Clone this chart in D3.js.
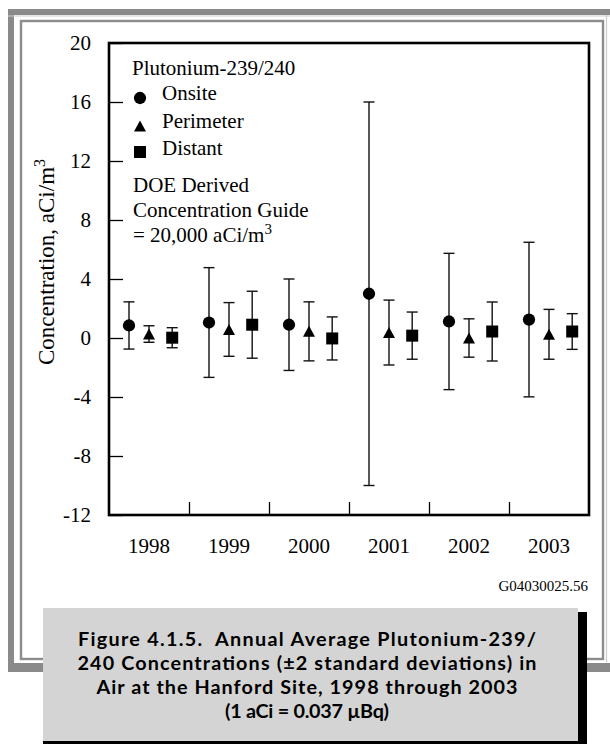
<!DOCTYPE html>
<html>
<head>
<meta charset="utf-8">
<script src="https://cdn.jsdelivr.net/npm/d3@7"></script>
<style>
html, body { margin: 0; padding: 0; background: #fff; }
svg { display: block; }
text { white-space: pre; }
</style>
</head>
<body>
<svg id="chart" width="610" height="744"></svg>
<script>
// ---- data ----
const years = [1998, 1999, 2000, 2001, 2002, 2003];
const seriesNames = ["Onsite", "Perimeter", "Distant"];
const onsiteMean = [0.85, 1.05, 0.9, 3.0, 1.12, 1.25];
const onsiteErr  = [1.6, 3.72, 3.1, 13.0, 4.62, 5.24];
const perimeterMean = [0.27, 0.58, 0.45, 0.37, 0.0, 0.25];
const perimeterErr  = [0.56, 1.82, 2.0, 2.2, 1.3, 1.69];
const distantMean = [0.02, 0.9, -0.03, 0.16, 0.44, 0.44];
const distantErr  = [0.68, 2.27, 1.46, 1.6, 2.0, 1.21];
const yTicks = [-12, -8, -4, 0, 4, 8, 12, 16, 20];
const captionLines = [
  "Figure 4.1.5.  Annual Average Plutonium-239/",
  "240 Concentrations (\u00b12 standard deviations) in",
  "Air at the Hanford Site, 1998 through 2003",
  "(1 aCi = 0.037 \u00b5Bq)"
];

// ---- layout ----
const svg = d3.select("#chart");
const serif = "'Liberation Serif', 'Times New Roman', serif";
const captionFont = "Lato, 'Open Sans', sans-serif";
const captionWidths = [458, 459, 421, 164];
const plot = { left: 109, right: 589, top: 43, bottom: 515 };
const seriesOffset = { Onsite: -0.25, Perimeter: 0, Distant: 0.29 }; // in year units

const x = d3.scaleLinear().domain([1997.5, 2003.5]).range([plot.left, plot.right]);
const y = d3.scaleLinear().domain([-12, 20]).range([plot.bottom, plot.top]);

// ---- page frame ----
const frameGray = "#8a8a8a";
svg.append("path").attr("d", "M11,672 L11,12 L610,12")
  .attr("fill", "none").attr("stroke", frameGray).attr("stroke-width", 6);
svg.append("line").attr("x1", 8).attr("x2", 610).attr("y1", 16).attr("y2", 16)
  .attr("stroke", "#cfcfcf").attr("stroke-width", 1);
svg.append("rect").attr("x", 8).attr("y", 663).attr("width", 602).attr("height", 9).attr("fill", frameGray);
svg.append("rect").attr("x", 21).attr("y", 21).attr("width", 582).attr("height", 638)
  .attr("fill", "none").attr("stroke", "#8c8c8c").attr("stroke-width", 2.4);
svg.append("line").attr("x1", 606.5).attr("x2", 606.5).attr("y1", 15).attr("y2", 662)
  .attr("stroke", "#cccccc").attr("stroke-width", 1.2);

// ---- axes ----
const yAxis = d3.axisLeft(y).tickValues(yTicks).tickSize(-14).tickPadding(18).tickFormat(d3.format("d"));
const gy = svg.append("g").attr("transform", `translate(${plot.left},0)`).call(yAxis);
gy.select(".domain").remove();
gy.selectAll(".tick line").attr("stroke", "#000").attr("stroke-width", 1.3);
gy.selectAll(".tick text").attr("font-family", serif).attr("font-size", 21).attr("fill", "#000")
  .text(d => d < 0 ? "-" + Math.abs(d) : d);

const bounds = years.slice(0, -1).map(v => v + 0.5);
const xAxis = d3.axisBottom(x).tickValues(bounds).tickSize(-13).tickFormat("");
const gx = svg.append("g").attr("transform", `translate(0,${plot.bottom})`).call(xAxis);
gx.select(".domain").remove();
gx.selectAll(".tick line").attr("stroke", "#000").attr("stroke-width", 1.3);

svg.append("g").selectAll("text").data(years).join("text")
  .attr("x", d => x(d)).attr("y", 553)
  .attr("text-anchor", "middle").attr("font-family", serif).attr("font-size", 21)
  .text(d => d);

// plot frame
svg.append("rect").attr("x", plot.left).attr("y", plot.top)
  .attr("width", plot.right - plot.left).attr("height", plot.bottom - plot.top)
  .attr("fill", "none").attr("stroke", "#000").attr("stroke-width", 2.6);

// y label
const ylab = svg.append("text").attr("transform", "translate(54,262) rotate(-90)")
  .attr("text-anchor", "middle").attr("font-family", serif).attr("font-size", 23);
ylab.append("tspan").text("Concentration, aCi/m");
ylab.append("tspan").attr("dy", -9).attr("font-size", 16).text("3");

// ---- markers ----
function markerPath(name) {
  if (name === "Onsite") return d3.symbol(d3.symbolCircle, 118)();
  if (name === "Perimeter") return "M0,-5.5L6,5.5L-6,5.5Z";
  return "M-6,-6H6V6H-6Z";
}

const series = [
  { name: "Onsite", mean: onsiteMean, err: onsiteErr },
  { name: "Perimeter", mean: perimeterMean, err: perimeterErr },
  { name: "Distant", mean: distantMean, err: distantErr }
];

const pts = [];
series.forEach(s => years.forEach((yr, i) => pts.push({ name: s.name, year: yr, v: s.mean[i], e: s.err[i] })));

const g = svg.append("g");
const px = d => x(d.year + seriesOffset[d.name]);
g.selectAll("line.err").data(pts).join("line").attr("class", "err")
  .attr("x1", px).attr("x2", px)
  .attr("y1", d => y(d.v - d.e)).attr("y2", d => y(d.v + d.e))
  .attr("stroke", "#111").attr("stroke-width", 1.4);
["lo", "hi"].forEach(k => {
  g.selectAll("line.cap" + k).data(pts).join("line").attr("class", "cap" + k)
    .attr("x1", d => px(d) - 5.5).attr("x2", d => px(d) + 5.5)
    .attr("y1", d => y(k === "lo" ? d.v - d.e : d.v + d.e))
    .attr("y2", d => y(k === "lo" ? d.v - d.e : d.v + d.e))
    .attr("stroke", "#111").attr("stroke-width", 1.4);
});
g.selectAll("path.mk").data(pts).join("path").attr("class", "mk")
  .attr("transform", d => `translate(${px(d)},${y(d.v)})`)
  .attr("d", d => markerPath(d.name)).attr("fill", "#000");

// ---- legend ----
const leg = svg.append("g").attr("font-family", serif).attr("font-size", 21);
leg.append("text").attr("x", 132).attr("y", 75).text("Plutonium-239/240");
const legY = [98, 126, 152];
seriesNames.forEach((n, i) => {
  leg.append("path").attr("transform", `translate(140,${legY[i]})`).attr("d", markerPath(n)).attr("fill", "#000");
  leg.append("text").attr("x", 162).attr("y", [100, 128, 155][i]).text(n);
});
leg.append("text").attr("x", 133).attr("y", 192).text("DOE Derived");
leg.append("text").attr("x", 133).attr("y", 217).text("Concentration Guide");
const g3 = leg.append("text").attr("x", 133).attr("y", 242);
g3.append("tspan").text("= 20,000 aCi/m");
g3.append("tspan").attr("dy", -8).attr("font-size", 15).text("3");

// id code
svg.append("text").attr("x", 588).attr("y", 591).attr("text-anchor", "end")
  .attr("font-family", serif).attr("font-size", 15).text("G04030025.56");

// ---- caption box ----
svg.append("rect").attr("x", 43).attr("y", 612).attr("width", 544).attr("height", 140).attr("fill", "#000");
svg.append("rect").attr("x", 43).attr("y", 608).attr("width", 535).attr("height", 133).attr("fill", "#d4d4d4");
svg.append("g").selectAll("text").data(captionLines).join("text")
  .attr("x", 307).attr("y", (d, i) => 646 + i * 24)
  .attr("text-anchor", "middle").attr("font-family", captionFont)
  .attr("font-weight", "bold").attr("font-size", 19.8).attr("fill", "#000")
  .attr("textLength", (d, i) => captionWidths[i]).attr("lengthAdjust", "spacing")
  .text(d => d);
</script>
</body>
</html>
